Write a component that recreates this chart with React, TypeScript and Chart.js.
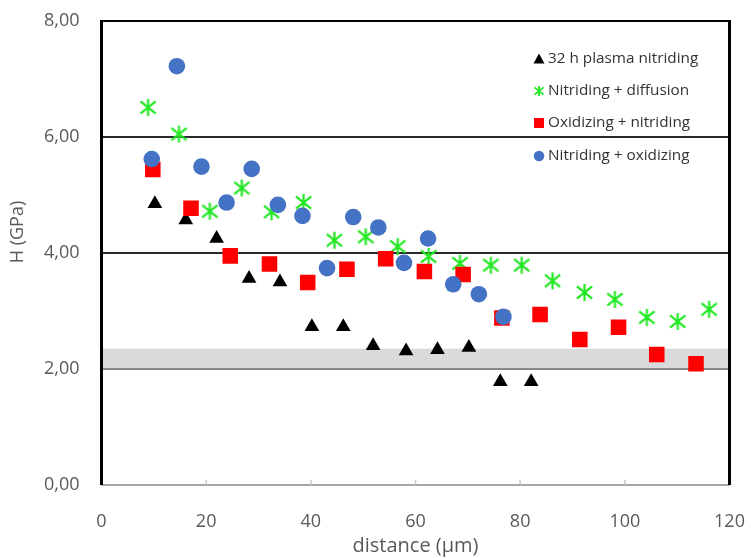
import React, { useEffect, useRef } from 'react';
import { Chart, registerables } from 'chart.js';

Chart.register(...registerables);

const FONT = '"Open Sans", sans-serif';

// 32 h plasma nitriding
const plasmaX = [10.2, 16.1, 22.0, 28.2, 34.1, 40.2, 46.2, 51.9, 58.2, 64.2, 70.2, 76.2, 82.1];
const plasmaY = [4.85, 4.57, 4.25, 3.56, 3.50, 2.73, 2.73, 2.40, 2.31, 2.33, 2.37, 1.78, 1.78];

// Nitriding + diffusion
const diffX = [8.9, 14.8, 20.7, 26.8, 32.5, 38.6, 44.5, 50.5, 56.6, 62.5, 68.5, 74.4, 80.3, 86.2, 92.3, 98.1, 104.2, 110.1, 116.1];
const diffY = [6.51, 6.05, 4.72, 5.12, 4.71, 4.87, 4.22, 4.28, 4.11, 3.94, 3.82, 3.79, 3.79, 3.52, 3.32, 3.20, 2.89, 2.82, 3.03];

// Oxidizing + nitriding
const oxNitX = [9.8, 17.1, 24.6, 32.1, 39.4, 46.9, 54.3, 61.7, 69.1, 76.5, 83.8, 91.4, 98.8, 106.1, 113.6];
const oxNitY = [5.44, 4.77, 3.95, 3.81, 3.49, 3.72, 3.90, 3.68, 3.63, 2.88, 2.94, 2.51, 2.72, 2.25, 2.09];

// Nitriding + oxidizing
const nitOxX = [9.6, 14.4, 19.1, 23.9, 28.7, 33.7, 38.4, 43.1, 48.1, 52.9, 57.8, 62.4, 67.2, 72.1, 76.8];
const nitOxY = [5.62, 7.22, 5.49, 4.87, 5.45, 4.83, 4.64, 3.74, 4.62, 4.44, 3.83, 4.25, 3.46, 3.29, 2.90];

const seriesLabels = ['32 h plasma nitriding', 'Nitriding + diffusion', 'Oxidizing + nitriding', 'Nitriding + oxidizing'];

// axis ranges / tick labels
const xMin = 0, xMax = 120, xStep = 20;
const yMin = 0, yMax = 8, yStep = 2;
const xTitle = 'distance (µm)';
const yTitle = 'H (GPa)';
const bandLow = 2.0, bandHigh = 2.35;

const GREEN = '#22e822';
const RED = '#ff0000';
const BLUE = '#4472c4';
const BLACK = '#000000';

function makeAsterisk(size: number, lw: number) {
  const c = document.createElement('canvas');
  c.width = size;
  c.height = size;
  const g = c.getContext('2d')!;
  g.strokeStyle = GREEN;
  g.lineWidth = lw;
  const m = size / 2;
  const r = size / 2 - 1;
  g.beginPath();
  g.moveTo(m, m - r);
  g.lineTo(m, m + r);
  g.moveTo(m - r * 0.9, m - r * 0.72);
  g.lineTo(m + r * 0.9, m + r * 0.72);
  g.moveTo(m + r * 0.9, m - r * 0.72);
  g.lineTo(m - r * 0.9, m + r * 0.72);
  g.stroke();
  return c;
}

const zip = (xs: number[], ys: number[]) => xs.map((x, i) => ({ x, y: ys[i] }));

const zeroPad = (s: any) => {
  s.paddingTop = 0;
  s.paddingBottom = 0;
  s.paddingLeft = 0;
  s.paddingRight = 0;
};

export default function App() {
  const ref = useRef<HTMLCanvasElement>(null);

  useEffect(() => {
    document.body.style.margin = '0';
    const star = makeAsterisk(19, 2.2);
    const starSmall = makeAsterisk(12, 1.8);

    const decor = {
      id: 'decor',
      beforeDatasetsDraw(chart: any) {
        const { ctx, chartArea: a, scales } = chart;
        const y = scales.y;
        ctx.save();
        ctx.fillStyle = '#dadada';
        const yt = y.getPixelForValue(bandHigh);
        const yb = y.getPixelForValue(bandLow);
        ctx.fillRect(a.left, yt, a.right - a.left, yb - yt);
        ctx.strokeStyle = '#8a8a8a';
        ctx.lineWidth = 2;
        ctx.beginPath();
        ctx.moveTo(a.left, yb);
        ctx.lineTo(a.right, yb);
        ctx.stroke();
        ctx.restore();
      },
      afterDatasetsDraw(chart: any) {
        const { ctx, chartArea: a, scales } = chart;
        const x = scales.x;
        ctx.save();
        // bottom axis
        ctx.strokeStyle = '#a6a6a6';
        ctx.lineWidth = 2;
        ctx.beginPath();
        ctx.moveTo(a.left, a.bottom);
        ctx.lineTo(a.right, a.bottom);
        ctx.stroke();
        ctx.strokeStyle = '#c8c8c8';
        ctx.lineWidth = 1.5;
        ctx.beginPath();
        for (let v = xMin + xStep; v < xMax; v += xStep) {
          const px = x.getPixelForValue(v);
          ctx.moveTo(px, a.bottom);
          ctx.lineTo(px, a.bottom - 5);
        }
        ctx.stroke();
        // frame
        ctx.strokeStyle = '#000';
        ctx.lineWidth = 2;
        ctx.beginPath();
        ctx.moveTo(a.left, a.top);
        ctx.lineTo(a.right, a.top);
        ctx.stroke();
        ctx.lineWidth = 3;
        ctx.beginPath();
        ctx.moveTo(a.left, a.top - 1);
        ctx.lineTo(a.left, a.bottom);
        ctx.moveTo(a.right, a.top - 1);
        ctx.lineTo(a.right, a.bottom);
        ctx.stroke();

        // axis titles
        ctx.fillStyle = '#595959';
        ctx.textAlign = 'center';
        ctx.textBaseline = 'middle';
        ctx.font = `20px ${FONT}`;
        ctx.fillText(xTitle, (a.left + a.right) / 2, 546);
        ctx.font = `18px ${FONT}`;
        ctx.save();
        ctx.translate(18, 232);
        ctx.rotate(-Math.PI / 2);
        ctx.fillText(yTitle, 0, 0);
        ctx.restore();

        // legend
        const lx = 539;
        const ly = [59, 91, 123, 156];
        ctx.textAlign = 'left';
        ctx.fillStyle = '#333';
        ctx.font = `15.3px ${FONT}`;
        seriesLabels.forEach((t, i) => {
          ctx.fillText(t, 548, ly[i]);
        });
        // markers
        ctx.fillStyle = BLACK;
        ctx.beginPath();
        ctx.moveTo(lx, ly[0] - 5.5);
        ctx.lineTo(lx + 5.5, ly[0] + 4.5);
        ctx.lineTo(lx - 5.5, ly[0] + 4.5);
        ctx.closePath();
        ctx.fill();
        ctx.drawImage(starSmall, lx - starSmall.width / 2, ly[1] - starSmall.height / 2);
        ctx.fillStyle = RED;
        ctx.fillRect(lx - 5, ly[2] - 5, 10, 10);
        ctx.fillStyle = BLUE;
        ctx.beginPath();
        ctx.arc(lx, ly[3], 5.3, 0, Math.PI * 2);
        ctx.fill();
        ctx.restore();
      },
    };

    const chart = new Chart(ref.current!, {
      type: 'scatter',
      data: {
        datasets: [
          {
            label: seriesLabels[0],
            data: zip(plasmaX, plasmaY),
            pointStyle: 'triangle',
            pointRadius: 8.5,
            pointBackgroundColor: BLACK,
            pointBorderWidth: 0,
            order: 4,
          },
          {
            label: seriesLabels[1],
            data: zip(diffX, diffY),
            pointStyle: star as any,
            pointRadius: 9,
            order: 3,
          },
          {
            label: seriesLabels[2],
            data: zip(oxNitX, oxNitY),
            pointStyle: 'rect',
            pointRadius: 11,
            pointBackgroundColor: RED,
            pointBorderWidth: 0,
            order: 2,
          },
          {
            label: seriesLabels[3],
            data: zip(nitOxX, nitOxY),
            pointStyle: 'circle',
            pointRadius: 8.3,
            pointBackgroundColor: BLUE,
            pointBorderWidth: 0,
            order: 1,
          },
        ],
      },
      options: {
        responsive: false,
        animation: false,
        devicePixelRatio: 1,
        layout: { padding: { top: 21, right: 21.5, left: 0, bottom: 0 } },
        plugins: { legend: { display: false }, tooltip: { enabled: false } },
        scales: {
          x: {
            type: 'linear',
            min: xMin,
            max: xMax,
            afterFit: (s: any) => { s.height = 73; zeroPad(s); },
            ticks: {
              stepSize: xStep,
              color: '#595959',
              font: { family: FONT, size: 18 },
              padding: 26,
              maxRotation: 0,
            },
            grid: { display: false, drawTicks: false },
            border: { display: false },
          },
          y: {
            type: 'linear',
            min: yMin,
            max: yMax,
            afterFit: (s: any) => { s.width = 101.5; zeroPad(s); },
            ticks: {
              stepSize: yStep,
              color: '#595959',
              font: { family: FONT, size: 18 },
              padding: 22,
              callback: (v: any) => Number(v).toFixed(2).replace('.', ','),
            },
            grid: {
              drawTicks: false,
              lineWidth: 2,
              color: (c: any) => (c.tick && (c.tick.value === 4 || c.tick.value === 6) ? '#2a2a2a' : 'rgba(0,0,0,0)'),
            },
            border: { display: false },
          },
        },
      },
      plugins: [decor],
    });
    return () => chart.destroy();
  }, []);

  return (
    <div style={{ width: 751, height: 558, position: 'relative', background: '#fff' }}>
      <canvas ref={ref} width={751} height={558} />
    </div>
  );
}
